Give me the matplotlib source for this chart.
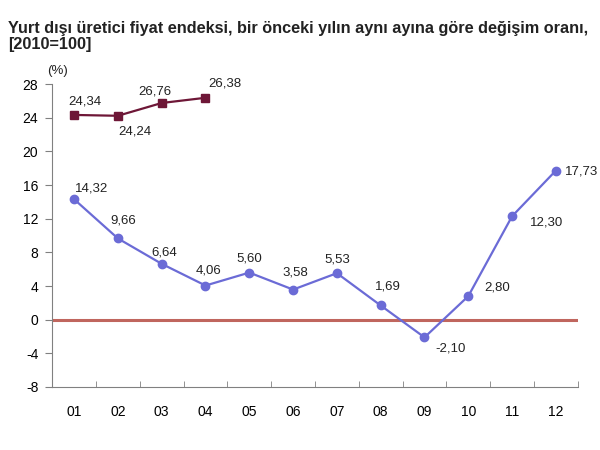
import matplotlib.pyplot as plt
import numpy as np

plt.rcParams['font.family'] = ['Liberation Sans', 'DejaVu Sans']

# veriler
aylar = ["01", "02", "03", "04", "05", "06", "07", "08", "09", "10", "11", "12"]
seri_2019 = [24.34, 24.24, 25.76, 26.38]
etiket_2019 = ["24,34", "24,24", "26,76", "26,38"]
seri_2018 = [14.32, 9.66, 6.64, 4.06, 5.60, 3.58, 5.53, 1.69, -2.10, 2.80, 12.30, 17.73]
y_ticks = [-8, -4, 0, 4, 8, 12, 16, 20, 24, 28]

fig = plt.figure(figsize=(6, 4.5), dpi=100)
ax = fig.add_axes([0.087, 0.14, 0.876, 0.673])

x = np.arange(1, len(aylar) + 1)
ax.axhline(0, color="#c0665e", lw=2.2, zorder=1)
ax.plot(x, seri_2018, color="#6b6bd6", lw=1.6, marker="o", ms=6, zorder=3)
ax.plot(x[:len(seri_2019)], seri_2019, color="#6e1737", lw=1.6, marker="s", ms=6, zorder=3)

# etiketler (ofset noktalar cinsinden)
mavi_ofset = [(12.5, 8), (4, 13), (2, 8), (2, 11), (0, 10), (1.5, 12), (0.5, 9.5),
              (5, 14), (19, -8), (21, 6), (25, -4.5), (6.5, -1)]
for i, (xi, yi, (dx, dy)) in enumerate(zip(x, seri_2018, mavi_ofset)):
    ax.annotate(f"{yi:.2f}".replace(".", ","), (xi, yi), xytext=(dx, dy), textcoords="offset points",
                ha="left" if i == len(x) - 1 else "center", va="center", fontsize=9.5, color="#222222")
kirmizi_ofset = [(7.5, 9.5), (12.5, -11), (-5, 8.5), (14, 10)]
for xi, yi, lab, (dx, dy) in zip(x, seri_2019, etiket_2019, kirmizi_ofset):
    ax.annotate(lab, (xi, yi), xytext=(dx, dy), textcoords="offset points",
                ha="center", va="center", fontsize=9.5, color="#222222")

ax.set_xlim(0.5, 12.5)
ax.set_ylim(-8, 28)
ax.set_yticks(y_ticks)
ax.set_yticklabels([str(v) for v in y_ticks], fontsize=10)
ax.set_xticks(x)
ax.set_xticklabels(aylar, fontsize=10)
ax.set_xticks(np.arange(0.5, 13, 1), minor=True)
ax.tick_params(axis="x", which="major", length=0, pad=13)
ax.tick_params(axis="x", which="minor", length=4, direction="in", color="#808080")
ax.tick_params(axis="y", length=5, color="#808080", pad=5)
for s in ["top", "right"]:
    ax.spines[s].set_visible(False)
for s in ["left", "bottom"]:
    ax.spines[s].set_color("#808080")

fig.text(0.013, 0.936, "Yurt dışı üretici fiyat endeksi, bir önceki yılın aynı ayına göre değişim oranı,",
         fontsize=11.7, fontweight="bold", color="#222222", va="center")
fig.text(0.013, 0.9, "[2010=100]", fontsize=11.7, fontweight="bold", color="#222222", va="center")
fig.text(0.095, 0.842, "(%)", fontsize=9.5, color="#222222", ha="center", va="center")

fig.savefig("out.png", dpi=100)
